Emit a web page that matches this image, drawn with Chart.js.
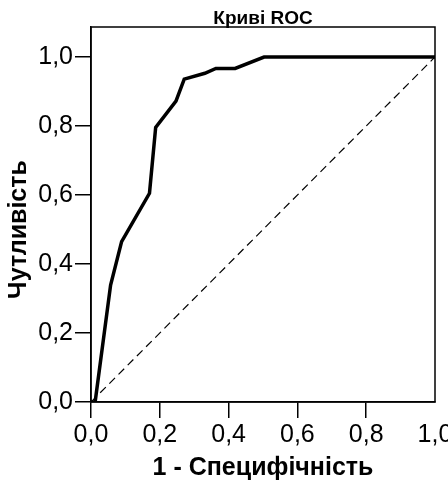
<!DOCTYPE html>
<html><head><meta charset="utf-8">
<script src="https://cdn.jsdelivr.net/npm/chart.js@4.4.1/dist/chart.umd.min.js"></script>
<style>html,body{margin:0;padding:0;background:#fff;overflow:hidden}canvas{display:block}</style>
</head><body>
<canvas id="c" width="448" height="481"></canvas>
<script>
const chartTitle = 'Криві ROC';
const xAxisTitle = '1 - Специфічність';
const yAxisTitle = 'Чутливість';
const rocFpr = [0, 0.012, 0.057, 0.089, 0.170, 0.188, 0.247, 0.271, 0.331, 0.363, 0.419, 0.503, 1.0];
const rocTpr = [0, 0, 0.339, 0.465, 0.605, 0.796, 0.872, 0.936, 0.953, 0.967, 0.967, 1.0, 1.0];
const refFpr = [0, 1];
const refTpr = [0, 1];
const tickValues = [0, 0.2, 0.4, 0.6, 0.8, 1.0];
const tickLabels = ['0,0', '0,2', '0,4', '0,6', '0,8', '1,0'];

const FONT = "'Liberation Sans', Arial, sans-serif";
const toPts = (xs, ys) => xs.map((x, i) => ({x: x, y: ys[i]}));
const labelFor = v => {
  const i = tickValues.findIndex(t => Math.abs(t - v) < 1e-9);
  return i >= 0 ? tickLabels[i] : '';
};

const framePlugin = {
  id: 'frame',
  beforeDatasetsDraw(chart) {
    const a = chart.chartArea, ctx = chart.ctx;
    ctx.save();
    ctx.strokeStyle = '#000';
    ctx.lineWidth = 1.5;
    ctx.strokeRect(a.left, a.top, a.right - a.left, a.bottom - a.top);
    ctx.restore();
  },
  afterDraw(chart) {
    // y-axis title centred on the 0..1 data range, as in the reference
    const ys = chart.scales.y, ctx = chart.ctx;
    const mid = (ys.getPixelForValue(tickValues[0]) + ys.getPixelForValue(tickValues[tickValues.length - 1])) / 2;
    ctx.save();
    ctx.translate(19, mid);
    ctx.rotate(-Math.PI / 2);
    ctx.font = 'bold 25px ' + FONT;
    ctx.fillStyle = '#000';
    ctx.textAlign = 'center';
    ctx.textBaseline = 'middle';
    ctx.fillText(yAxisTitle, 0, 0);
    ctx.restore();
  }
};

new Chart(document.getElementById('c'), {
  type: 'scatter',
  data: {
    datasets: [
      {data: toPts(refFpr, refTpr), showLine: true, borderColor: '#000', borderWidth: 1.2, borderDash: [8, 5], pointRadius: 0, fill: false},
      {data: toPts(rocFpr, rocTpr), showLine: true, borderColor: '#000', borderWidth: 3.5, pointRadius: 0, fill: false, borderJoinStyle: 'miter', tension: 0}
    ]
  },
  options: {
    responsive: false,
    animation: false,
    layout: {padding: {left: 0, right: 13, top: 0, bottom: 0}},
    plugins: {
      legend: {display: false},
      tooltip: {enabled: false},
      title: {display: true, text: chartTitle, fullSize: false, color: '#000',
        font: {family: FONT, size: 19, weight: 'bold', lineHeight: 1}, padding: {top: 9, bottom: -1}}
    },
    scales: {
      x: {
        type: 'linear', min: 0, max: 1,
        afterBuildTicks: s => { s.ticks = tickValues.map(v => ({value: v})); },
        afterFit: s => { s.height = 79; s.paddingLeft = 0; s.paddingRight = 0; },
        border: {display: true, color: '#000', width: 1.5},
        grid: {drawOnChartArea: false, drawTicks: true, tickLength: 16, lineWidth: 1.5,
          color: c => (c.tick && c.tick.value === 1) ? 'rgba(0,0,0,0)' : '#000'},
        ticks: {color: '#000', padding: 2, maxRotation: 0, autoSkip: false,
          font: {family: FONT, size: 25}, callback: v => labelFor(v)},
        title: {display: true, text: xAxisTitle, color: '#000',
          font: {family: FONT, size: 25, weight: 'bold', lineHeight: 1}, padding: {top: 0, bottom: 0.5}}
      },
      y: {
        type: 'linear', min: 0, max: 1.087,
        afterBuildTicks: s => { s.ticks = tickValues.map(v => ({value: v})); },
        afterFit: s => { s.width = 91; s.paddingTop = 0; s.paddingBottom = 0; },
        border: {display: true, color: '#000', width: 1.5},
        grid: {drawOnChartArea: false, drawTicks: true, tickLength: 16, lineWidth: 1.5, color: '#000'},
        ticks: {color: '#000', padding: 2, autoSkip: false,
          font: {family: FONT, size: 25}, callback: v => labelFor(v)},
        title: {display: false}
      }
    }
  },
  plugins: [framePlugin]
});
</script>
</body></html>
